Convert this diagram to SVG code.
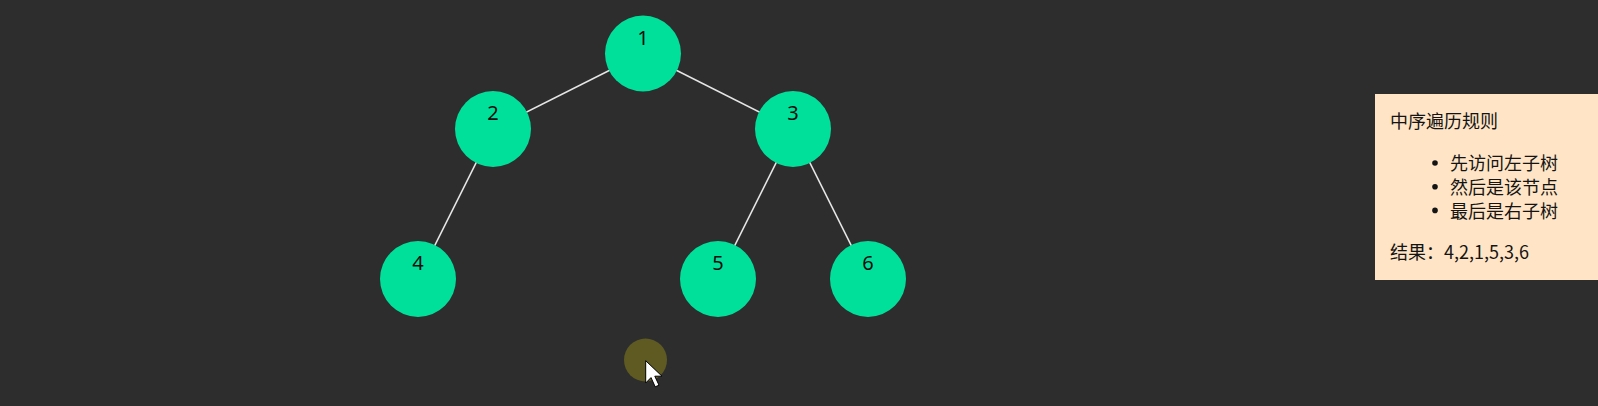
<svg xmlns="http://www.w3.org/2000/svg" width="1598" height="406" viewBox="0 0 1598 406">
  <style>
    .node circle { fill: #01E09B; }
    .node text { font-family: "Noto Sans", "Liberation Sans", sans-serif; font-size: 20px; fill: #0d0d0d; text-anchor: middle; }
    .edge { stroke: #e6e6e6; stroke-width: 1.6; }
    .panel text { font-family: "Noto Sans CJK SC", "Noto Sans", sans-serif; font-size: 18px; fill: #141414; }
    .panel .dot { fill: #141414; }
  </style>
  <rect x="0" y="0" width="1598" height="406" fill="#2D2D2D"/>

  <g id="connectors">
    <line class="edge" x1="643" y1="53.5" x2="493" y2="129"/>
    <line class="edge" x1="643" y1="53.5" x2="793" y2="129"/>
    <line class="edge" x1="493" y1="129" x2="418" y2="279"/>
    <line class="edge" x1="793" y1="129" x2="718" y2="279"/>
    <line class="edge" x1="793" y1="129" x2="868" y2="279"/>
  </g>

  <g id="node-1" class="node"><circle cx="643" cy="53.5" r="38"/><text x="643" y="44.5">1</text></g>
  <g id="node-2" class="node"><circle cx="493" cy="129" r="38"/><text x="493" y="120">2</text></g>
  <g id="node-3" class="node"><circle cx="793" cy="129" r="38"/><text x="793" y="120">3</text></g>
  <g id="node-4" class="node"><circle cx="418" cy="279" r="38"/><text x="418" y="270">4</text></g>
  <g id="node-5" class="node"><circle cx="718" cy="279" r="38"/><text x="718" y="270">5</text></g>
  <g id="node-6" class="node"><circle cx="868" cy="279" r="38"/><text x="868" y="270">6</text></g>

  <g id="panel" class="panel">
    <rect x="1375" y="94" width="223" height="186" fill="#FFE5C6"/>
    <text x="1390" y="127.5">中序遍历规则</text>
    <circle class="dot" cx="1435" cy="163" r="2.8"/>
    <text x="1450" y="170">先访问左子树</text>
    <circle class="dot" cx="1435" cy="186.7" r="2.8"/>
    <text x="1450" y="194">然后是该节点</text>
    <circle class="dot" cx="1435" cy="210.4" r="2.8"/>
    <text x="1450" y="217.5">最后是右子树</text>
    <text x="1390" y="259">结果：4,2,1,5,3,6</text>
  </g>

  <g id="cursor">
    <circle cx="645.5" cy="360" r="21.5" fill="#5E5A22"/>
    <path d="M645.7 360.7 L645.7 383 L651 377.6 L655.2 386.8 L659 385.2 L654.8 376.2 L662 376.2 Z" fill="#ffffff" stroke="#000000" stroke-width="1" stroke-linejoin="round"/>
  </g>
</svg>
